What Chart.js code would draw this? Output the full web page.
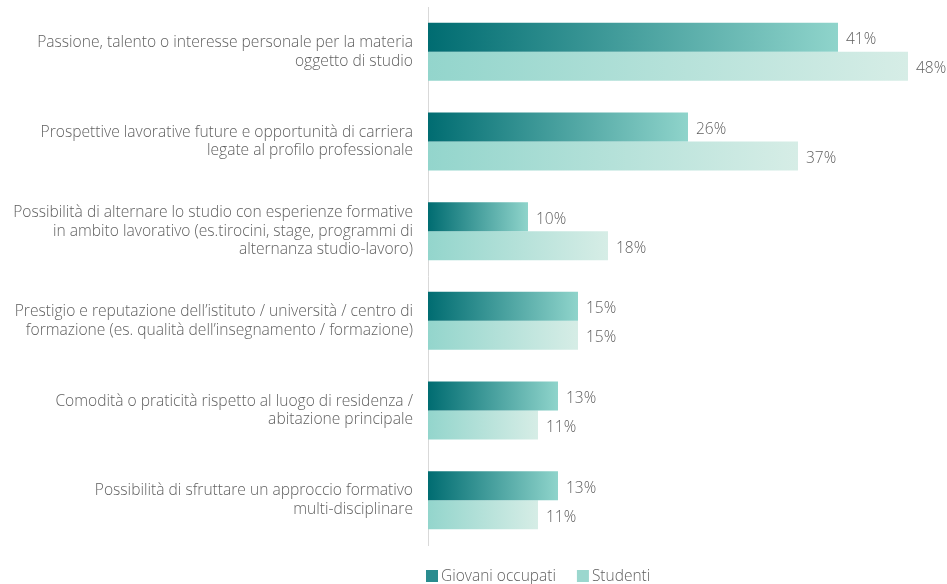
<!DOCTYPE html>
<html lang="it">
<head>
<meta charset="utf-8">
<title>Motivi della scelta del percorso formativo</title>
<script src="https://cdn.jsdelivr.net/npm/chart.js@4/dist/chart.umd.min.js"></script>
<style>
    html, body { margin: 0; padding: 0; background: #ffffff; }
    #wrap { position: relative; width: 947px; height: 584px; }
</style>
</head>
<body>
<div id="wrap"><canvas id="motiviChart" width="947" height="584"></canvas></div>
<script>
// Categorie (etichette su più righe)
const categorie = [
    ['Passione, talento o interesse personale per la materia', 'oggetto di studio'],
    ['Prospettive lavorative future e opportunità di carriera', 'legate al profilo professionale'],
    ['Possibilità di alternare lo studio con esperienze formative', 'in ambito lavorativo (es.tirocini, stage, programmi di', 'alternanza studio-lavoro)'],
    ['Prestigio e reputazione dell’istituto / università / centro di', 'formazione (es. qualità dell’insegnamento / formazione)'],
    ['Comodità o praticità rispetto al luogo di residenza /', 'abitazione principale'],
    ['Possibilità di sfruttare un approccio formativo', 'multi-disciplinare']
];

// Valori in percentuale
const giovaniOccupati = [41, 26, 10, 15, 13, 13];
const studenti = [48, 37, 18, 15, 11, 11];

const serieNomi = ['Giovani occupati', 'Studenti'];

// Colori dei gradienti (inizio -> fine barra) e del quadratino in legenda
const gradienti = [
    ['#006c71', '#8fd4cb'],
    ['#93d5cc', '#d6ede6']
];
const coloriLegenda = ['#2a8c8f', '#9bd7ce'];

const testoColore = '#5f5f5f';
const font = '"Open Sans", "Noto Sans", sans-serif';

// Gradiente orizzontale calcolato per ogni singola barra
function gradienteBarra(ctx, indiceSerie) {
    const chart = ctx.chart;
    if (!chart.chartArea || ctx.raw === undefined) {
        return gradienti[indiceSerie][0];
    }
    const x = chart.scales.x;
    const x0 = x.getPixelForValue(0);
    const x1 = x.getPixelForValue(ctx.raw);
    const g = chart.ctx.createLinearGradient(x0, 0, Math.max(x1, x0 + 1), 0);
    g.addColorStop(0, gradienti[indiceSerie][0]);
    g.addColorStop(1, gradienti[indiceSerie][1]);
    return g;
}

// Etichette con il valore a destra di ogni barra
const etichetteValori = {
    id: 'etichetteValori',
    afterDatasetsDraw(chart) {
        const c = chart.ctx;
        c.save();
        c.font = '300 15.5px ' + font;
        c.fillStyle = testoColore;
        c.textAlign = 'left';
        c.textBaseline = 'middle';
        chart.data.datasets.forEach((ds, i) => {
            chart.getDatasetMeta(i).data.forEach((bar, j) => {
                c.fillText(ds.data[j] + '%', bar.x + 8, bar.y + 2.5);
            });
        });
        c.restore();
    }
};

// Legenda disegnata in basso, allineata all'asse
const legendaBasso = {
    id: 'legendaBasso',
    afterDraw(chart) {
        const c = chart.ctx;
        c.save();
        c.font = '300 15.5px ' + font;
        c.textBaseline = 'middle';
        let x = chart.chartArea.left - 2;
        const y = 576;
        serieNomi.forEach((nome, i) => {
            c.fillStyle = coloriLegenda[i];
            c.fillRect(x, y - 6, 12, 12);
            c.fillStyle = testoColore;
            c.fillText(nome, x + 15, y + 1);
            x += 15 + c.measureText(nome).width + 21;
        });
        c.restore();
    }
};

const ctx = document.getElementById('motiviChart').getContext('2d');
const motiviChart = new Chart(ctx, {
    type: 'bar',
    data: {
        labels: categorie,
        datasets: [
            {
                label: serieNomi[0],
                data: giovaniOccupati,
                backgroundColor: (c) => gradienteBarra(c, 0),
                categoryPercentage: 0.647,
                barPercentage: 1
            },
            {
                label: serieNomi[1],
                data: studenti,
                backgroundColor: (c) => gradienteBarra(c, 1),
                categoryPercentage: 0.647,
                barPercentage: 1
            }
        ]
    },
    options: {
        indexAxis: 'y',
        responsive: false,
        animation: false,
        layout: {
            padding: { top: 7, bottom: 39, right: 19, left: 0 }
        },
        plugins: {
            legend: { display: false },
            tooltip: { enabled: false }
        },
        scales: {
            x: {
                display: false,
                min: 0,
                max: 50
            },
            y: {
                afterFit(scale) {
                    // larghezza fissa e niente margini extra per le etichette lunghe
                    scale.width = 428;
                    scale.paddingTop = 0;
                    scale.paddingBottom = 0;
                },
                grid: { display: false, drawTicks: false },
                border: { display: true, color: '#d9d9d9', width: 1 },
                ticks: {
                    color: testoColore,
                    padding: 15,
                    font: { family: font, size: 15.6, weight: '300', lineHeight: 1.2 }
                }
            }
        }
    },
    plugins: [etichetteValori, legendaBasso]
});
</script>
</body>
</html>
